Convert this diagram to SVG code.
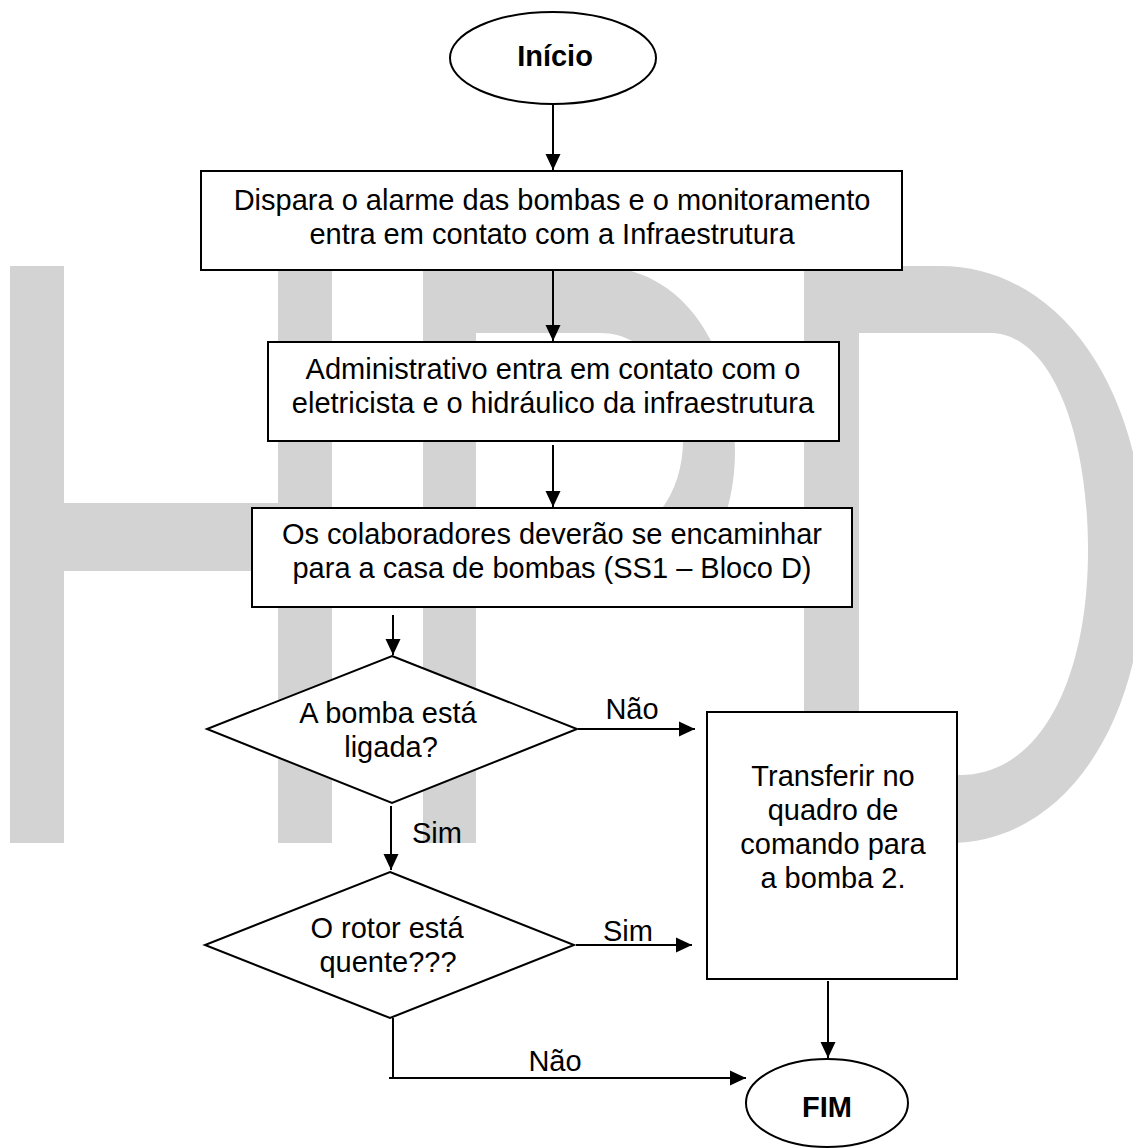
<svg xmlns="http://www.w3.org/2000/svg" width="1133" height="1148" viewBox="0 0 1133 1148">
<style>
.wm{fill:#d3d3d3;fill-rule:evenodd}
.nd{fill:#fff;stroke:#000;stroke-width:2}
.t{font-family:"Liberation Sans",Arial,sans-serif;font-size:29px;fill:#000;text-anchor:middle}
.b{font-weight:bold}
.c{fill:none;stroke:#000;stroke-width:2}
</style>
<defs>
<marker id="ah" markerUnits="userSpaceOnUse" markerWidth="16" markerHeight="16" viewBox="0 0 16 16" refX="16" refY="8" orient="auto">
<path d="M0,0.5 L16,8 L0,15.5 Z" fill="#000"/>
</marker>
</defs>
<rect width="1133" height="1148" fill="#fff"/>
<g id="watermark">
<rect class="wm" x="10" y="266" width="54" height="577"/>
<rect class="wm" x="278" y="266" width="54" height="577"/>
<rect class="wm" x="64" y="503" width="214" height="68"/>
<path class="wm" d="M423,266 H595 C685,266 735,350 735,450 C735,540 690,600 600,600 H476 V843 H423 Z M476,333 H600 C650,333 683,385 683,440 C683,495 650,540 600,540 H476 Z"/>
<path class="wm" d="M804,266 H940 C1060,266 1145,390 1145,555 C1145,730 1060,843 950,843 H804 Z M859,333 H990 C1050,333 1088,430 1088,550 C1088,680 1040,775 960,775 H859 Z"/>
</g>
<g id="connectors">
<line class="c" x1="553" y1="105" x2="553" y2="170" marker-end="url(#ah)"/>
<line class="c" x1="553" y1="271" x2="553" y2="341" marker-end="url(#ah)"/>
<line class="c" x1="553" y1="445" x2="553" y2="507" marker-end="url(#ah)"/>
<line class="c" x1="393" y1="615" x2="393" y2="655" marker-end="url(#ah)"/>
<line class="c" x1="578" y1="729" x2="695" y2="729" marker-end="url(#ah)"/>
<line class="c" x1="391" y1="806" x2="391" y2="870" marker-end="url(#ah)"/>
<line class="c" x1="576" y1="945" x2="692" y2="945" marker-end="url(#ah)"/>
<line class="c" x1="828" y1="981" x2="828" y2="1058" marker-end="url(#ah)"/>
<polyline class="c" points="393,1018 393,1078 389,1078 746,1078" marker-end="url(#ah)"/>
<text class="t" x="632" y="719">Não</text>
<text class="t" x="437" y="843">Sim</text>
<text class="t" x="628" y="941">Sim</text>
<text class="t" x="555" y="1071">Não</text>
</g>
<g id="inicio">
<ellipse class="nd" cx="553" cy="58" rx="103" ry="46"/>
<text class="t b" x="555" y="66" font-size="31">Início</text>
</g>
<g id="box1">
<rect class="nd" x="201" y="171" width="701" height="99"/>
<text class="t" x="552" y="210">Dispara o alarme das bombas e o monitoramento</text>
<text class="t" x="552" y="244">entra em contato com a Infraestrutura</text>
</g>
<g id="box2">
<rect class="nd" x="268" y="342" width="571" height="99"/>
<text class="t" x="553" y="379">Administrativo entra em contato com o</text>
<text class="t" x="553" y="413">eletricista e o hidráulico da infraestrutura</text>
</g>
<g id="box3">
<rect class="nd" x="252" y="508" width="600" height="99"/>
<text class="t" x="552" y="544">Os colaboradores deverão se encaminhar</text>
<text class="t" x="552" y="578">para a casa de bombas (SS1 – Bloco D)</text>
</g>
<g id="decision1">
<polygon class="nd" points="392,656 577,729 392,803 207,729"/>
<text class="t" x="388" y="723">A bomba está</text>
<text class="t" x="391" y="757">ligada?</text>
</g>
<g id="decision2">
<polygon class="nd" points="390,872 574,945 390,1018 205,945"/>
<text class="t" x="387" y="938">O rotor está</text>
<text class="t" x="388" y="972">quente???</text>
</g>
<g id="box4">
<rect class="nd" x="707" y="712" width="250" height="267"/>
<text class="t" x="833" y="786">Transferir no</text>
<text class="t" x="833" y="820">quadro de</text>
<text class="t" x="833" y="854">comando para</text>
<text class="t" x="833" y="888">a bomba 2.</text>
</g>
<g id="fim">
<ellipse class="nd" cx="827" cy="1103" rx="81" ry="44"/>
<text class="t b" x="827" y="1117" font-size="40">FIM</text>
</g>
</svg>
